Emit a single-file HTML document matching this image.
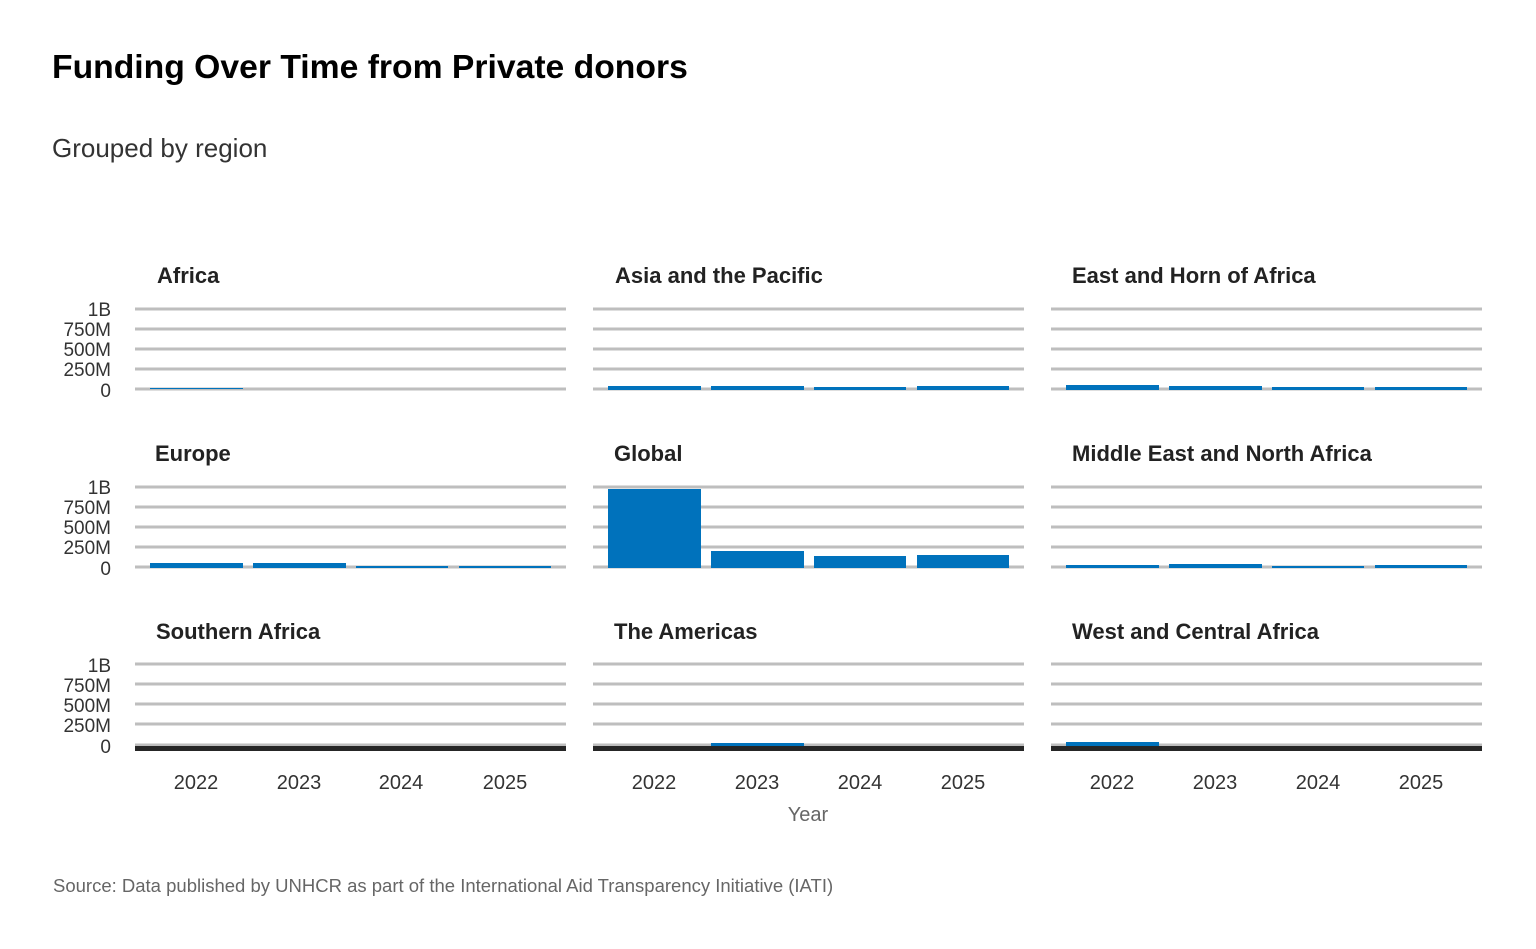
<!DOCTYPE html>
<html><head><meta charset="utf-8"><style>
html,body{margin:0;background:#fff;overflow:hidden;}
svg{display:block;}
svg text{font-family:"Liberation Sans",sans-serif;}
</style></head><body>
<svg width="1536" height="949" xmlns="http://www.w3.org/2000/svg">
<text x="52" y="78" font-size="33.7" font-weight="bold" fill="#000">Funding Over Time from Private donors</text>
<text x="52" y="157" font-size="26" fill="#333">Grouped by region</text>
<g font-size="22" font-weight="bold" fill="#222">
<text x="157" y="283">Africa</text>
<text x="615" y="283">Asia and the Pacific</text>
<text x="1072" y="283">East and Horn of Africa</text>
<text x="155" y="461">Europe</text>
<text x="614" y="461">Global</text>
<text x="1072" y="461">Middle East and North Africa</text>
<text x="156" y="639">Southern Africa</text>
<text x="614" y="639">The Americas</text>
<text x="1072" y="639">West and Central Africa</text>
</g>
<g stroke="#bebebe" stroke-width="3">
<path d="M135 309H566M135 329H566M135 349H566M135 369H566M135 389H566
M593 309H1024M593 329H1024M593 349H1024M593 369H1024M593 389H1024
M1051 309H1482M1051 329H1482M1051 349H1482M1051 369H1482M1051 389H1482
M135 487H566M135 507H566M135 527H566M135 547H566M135 567H566
M593 487H1024M593 507H1024M593 527H1024M593 547H1024M593 567H1024
M1051 487H1482M1051 507H1482M1051 527H1482M1051 547H1482M1051 567H1482
M135 664H566M135 684H566M135 704H566M135 724H566M135 745H566
M593 664H1024M593 684H1024M593 704H1024M593 724H1024M593 745H1024
M1051 664H1482M1051 684H1482M1051 704H1482M1051 724H1482M1051 745H1482"/>
</g>
<g fill="#333" font-size="19" text-anchor="end">
<text x="111" y="316">1B</text><text x="111" y="336">750M</text><text x="111" y="356">500M</text><text x="111" y="376">250M</text><text x="111" y="397">0</text>
<text x="111" y="494">1B</text><text x="111" y="514">750M</text><text x="111" y="534">500M</text><text x="111" y="554">250M</text><text x="111" y="575">0</text>
<text x="111" y="672">1B</text><text x="111" y="692">750M</text><text x="111" y="712">500M</text><text x="111" y="732">250M</text><text x="111" y="753">0</text>
</g>
<g fill="#0072bc">
<rect x="150" y="388" width="93" height="1"/>
<rect x="608" y="386" width="93" height="4"/><rect x="711" y="386" width="93" height="4"/><rect x="814" y="387" width="92" height="3"/><rect x="917" y="386" width="92" height="4"/>
<rect x="1066" y="385" width="93" height="5"/><rect x="1169" y="386" width="93" height="4"/><rect x="1272" y="387" width="92" height="3"/><rect x="1375" y="387" width="92" height="3"/>
<rect x="150" y="563" width="93" height="5"/><rect x="253" y="563" width="93" height="5"/><rect x="356" y="566" width="92" height="2"/><rect x="459" y="566" width="92" height="2"/>
<rect x="608" y="489" width="93" height="79"/><rect x="711" y="551" width="93" height="17"/><rect x="814" y="556" width="92" height="12"/><rect x="917" y="555" width="92" height="13"/>
<rect x="1066" y="565" width="93" height="3"/><rect x="1169" y="564" width="93" height="4"/><rect x="1272" y="566" width="92" height="2"/><rect x="1375" y="565" width="92" height="3"/>
<rect x="711" y="743" width="93" height="3"/>
<rect x="1066" y="742" width="93" height="4"/>
</g>
<g fill="#262626">
<rect x="135" y="746" width="431" height="5"/><rect x="593" y="746" width="431" height="5"/><rect x="1051" y="746" width="431" height="5"/>
</g>
<g fill="#333" font-size="20" text-anchor="middle">
<text x="196" y="789">2022</text><text x="299" y="789">2023</text><text x="401" y="789">2024</text><text x="505" y="789">2025</text>
<text x="654" y="789">2022</text><text x="757" y="789">2023</text><text x="860" y="789">2024</text><text x="963" y="789">2025</text>
<text x="1112" y="789">2022</text><text x="1215" y="789">2023</text><text x="1318" y="789">2024</text><text x="1421" y="789">2025</text>
</g>
<text x="808" y="821" font-size="20" fill="#666" text-anchor="middle">Year</text>
<text x="53" y="892" font-size="18.5" fill="#666">Source: Data published by UNHCR as part of the International Aid Transparency Initiative (IATI)</text>
</svg>
</body></html>
